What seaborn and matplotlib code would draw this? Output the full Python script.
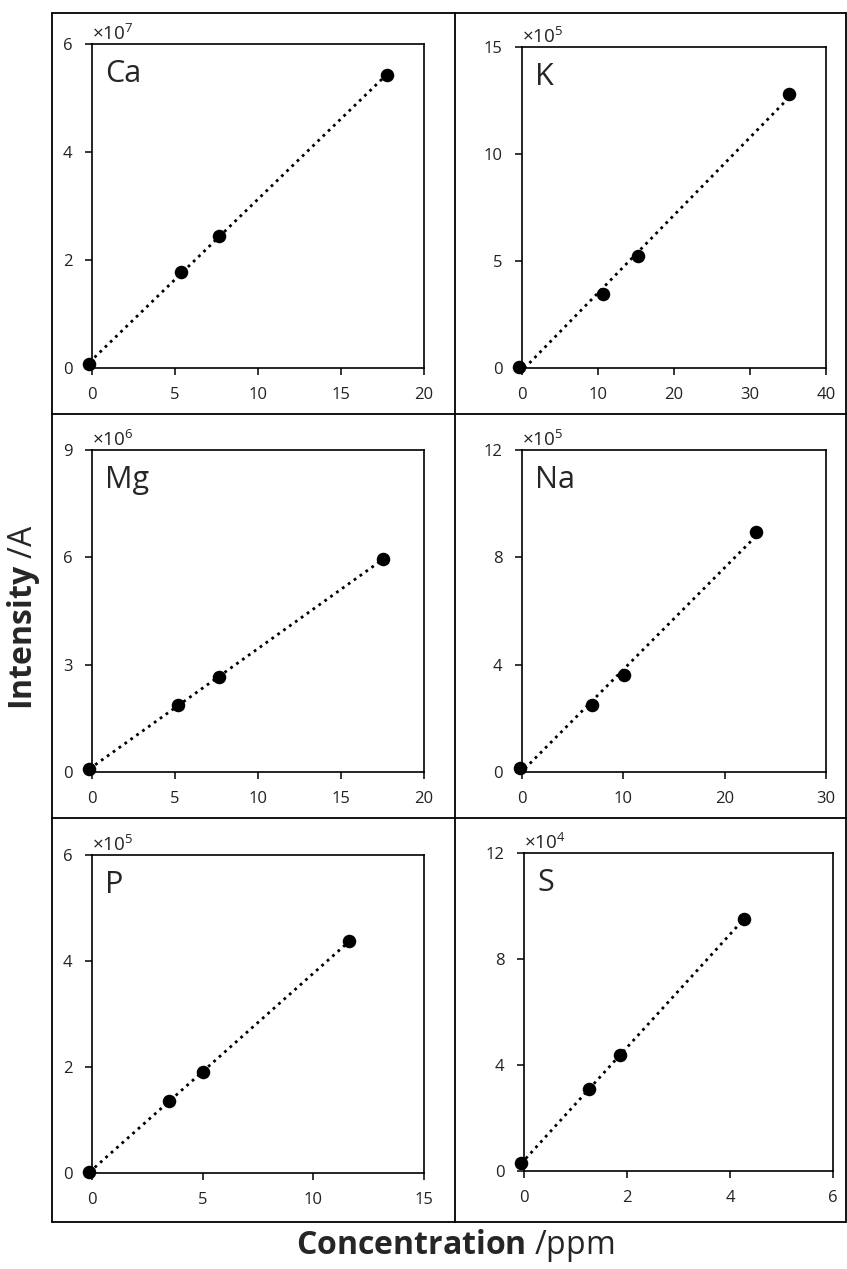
import numpy as np
import matplotlib
matplotlib.use("Agg")
import matplotlib.pyplot as plt
import seaborn as sns
from matplotlib.lines import Line2D

# calibration data (intensity in units of 10^exp)
ca_conc = [-0.16, 5.36, 7.63, 17.8]
ca_int = [0.07, 1.78, 2.44, 5.43]
k_conc = [-0.35, 10.66, 15.2, 35.1]
k_int = [0.06, 3.44, 5.22, 12.8]
mg_conc = [-0.16, 5.2, 7.63, 17.55]
mg_int = [0.08, 1.87, 2.66, 5.95]
na_conc = [-0.23, 6.86, 10.03, 23.1]
na_int = [0.15, 2.49, 3.61, 8.93]
p_conc = [-0.12, 3.49, 5.03, 11.63]
p_int = [0.025, 1.35, 1.91, 4.38]
s_conc = [-0.06, 1.27, 1.87, 4.27]
s_int = [0.29, 3.09, 4.37, 9.52]

elements = ["Ca", "K", "Mg", "Na", "P", "S"]
exponents = [7, 5, 6, 5, 5, 4]
x_max = [20, 40, 20, 30, 15, 6]
x_step = [5, 10, 5, 10, 5, 2]
y_max = [6, 15, 9, 12, 6, 12]
y_step = [2, 5, 3, 4, 2, 4]

concs = [ca_conc, k_conc, mg_conc, na_conc, p_conc, s_conc]
ints = [ca_int, k_int, mg_int, na_int, p_int, s_int]

sns.set_style("white")
plt.rcParams["font.family"] = ["Open Sans", "DejaVu Sans"]
plt.rcParams["mathtext.fontset"] = "custom"
plt.rcParams["mathtext.rm"] = "Open Sans"
plt.rcParams["mathtext.bf"] = "Open Sans:bold"
plt.rcParams["mathtext.default"] = "regular"

W, H = 847, 1269
fig = plt.figure(figsize=(W / 100, H / 100), dpi=100)

# axes boxes in pixels: left, right, top, bottom
boxes = [
    (92, 424, 44, 368),
    (522, 826, 47, 368),
    (92, 424, 450, 772),
    (522, 826, 450, 772),
    (92, 424, 855, 1173),
    (524, 833, 853, 1171),
]

for i, el in enumerate(elements):
    l, r, t, b = boxes[i]
    ax = fig.add_axes([l / W, 1 - b / H, (r - l) / W, (b - t) / H])
    sns.regplot(x=np.array(concs[i]), y=np.array(ints[i]), ax=ax, ci=None,
                color="black",
                scatter_kws={"s": 95, "clip_on": False, "zorder": 4,
                             "linewidths": 0, "alpha": 1},
                line_kws={"linestyle": (0, (1, 1.6)), "lw": 2.0})
    ax.set_xlim(0, x_max[i])
    ax.set_ylim(0, y_max[i])
    ax.set_xticks(np.arange(0, x_max[i] + 0.01, x_step[i]))
    ax.set_yticks(np.arange(0, y_max[i] + 0.01, y_step[i]))
    ax.set_xlabel("")
    ax.set_ylabel("")
    for sp in ax.spines.values():
        sp.set_color("black")
        sp.set_linewidth(1.2)
    ax.tick_params(bottom=True, left=True, direction="out", length=5,
                   width=1.1, color="black", labelsize=12, labelcolor="#222222")
    ax.tick_params(axis="x", pad=8.5)
    ax.tick_params(axis="y", pad=9)
    ax.text(0.0, 1.0, "×10$^{%d}$" % exponents[i], transform=ax.transAxes,
            ha="left", va="bottom", fontsize=13.5, color="#222222")
    ax.annotate(el, xy=(0, 1), xycoords="axes fraction", xytext=(13, -15),
                textcoords="offset pixels", ha="left", va="top", fontsize=22)

# cell frame lines
xs = [52, 455, 846]
ys = [13, 414, 818, 1222]
for x in xs:
    fig.add_artist(Line2D([x / W, x / W], [1 - ys[0] / H, 1 - ys[-1] / H],
                          color="black", lw=1.3))
for y in ys:
    fig.add_artist(Line2D([xs[0] / W, xs[-1] / W], [1 - y / H, 1 - y / H],
                          color="black", lw=1.3))

fig.text(455 / W, 1 - 1245 / H, r"$\mathbf{Concentration}$ /ppm",
         ha="center", va="center", fontsize=23)
fig.text(24 / W, 1 - 617 / H, r"$\mathbf{Intensity}$ /A",
         ha="center", va="center", rotation=90, fontsize=23)

fig.savefig("out.png", dpi=100)
